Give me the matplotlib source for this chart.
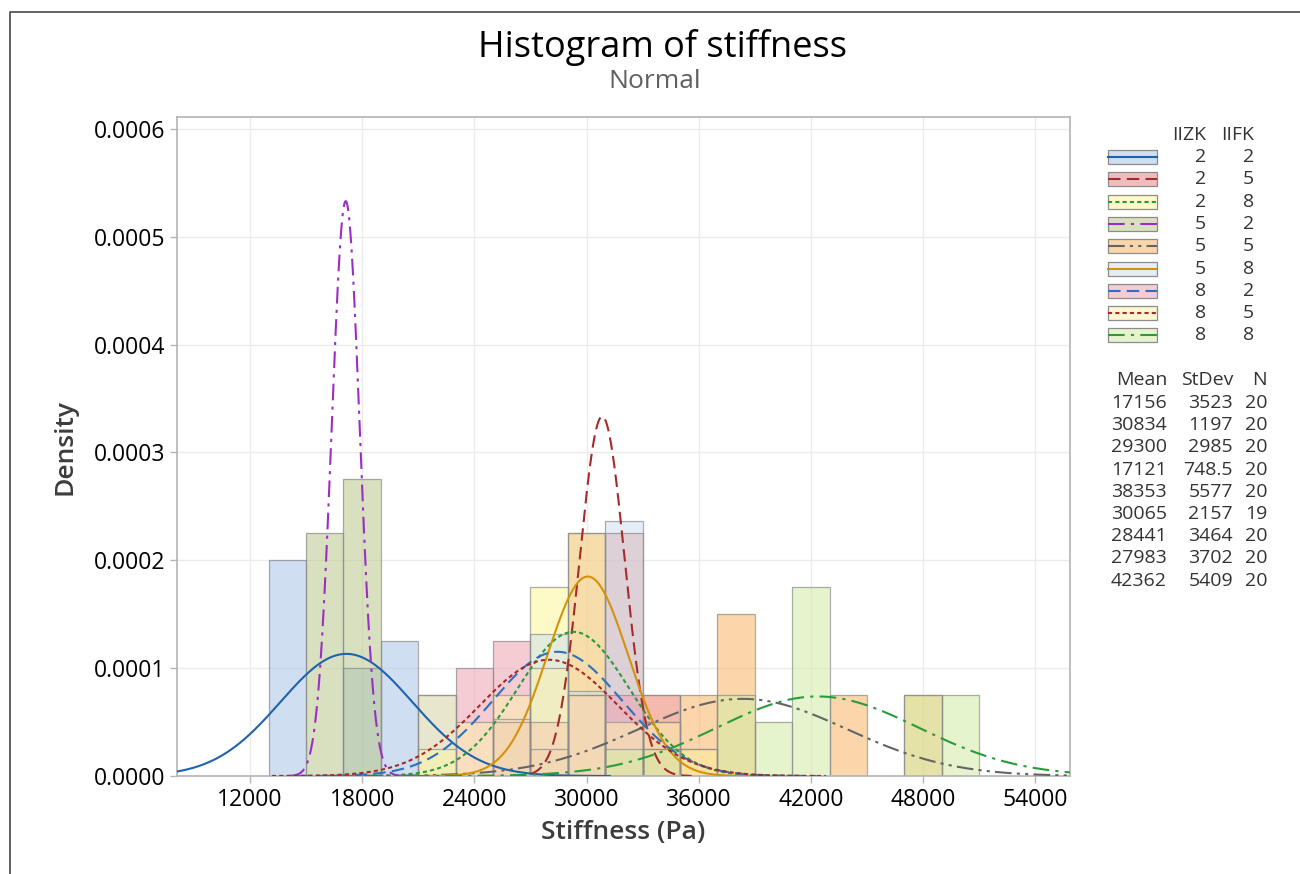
import numpy as np
import matplotlib
matplotlib.use("Agg")
import matplotlib.pyplot as plt
from matplotlib.patches import Rectangle
from matplotlib.lines import Line2D

plt.rcParams['font.family'] = ['Open Sans', 'DejaVu Sans']

# ---------------- data ----------------
bin_start = 13000
bin_width = 2000
n_bins = 19
iizk = [2, 2, 2, 5, 5, 5, 8, 8, 8]
iifk = [2, 5, 8, 2, 5, 8, 2, 5, 8]
means = [17156, 30834, 29300, 17121, 38353, 30065, 28441, 27983, 42362]
stdevs = [3523, 1197, 2985, 748.5, 5577, 2157, 3464, 3702, 5409]
ns = [20, 20, 20, 20, 20, 19, 20, 20, 20]
mean_lbl = ["17156", "30834", "29300", "17121", "38353", "30065", "28441", "27983", "42362"]
sd_lbl = ["3523", "1197", "2985", "748.5", "5577", "2157", "3464", "3702", "5409"]

# counts per bin (bins 13000-15000, 15000-17000, ..., 49000-51000)
counts_g1 = [8, 0, 4, 5, 3, 0, 0, 0, 0, 0, 0, 0, 0, 0, 0, 0, 0, 0, 0]
counts_g2 = [0, 0, 0, 0, 0, 0, 0, 1, 9, 9, 1, 0, 0, 0, 0, 0, 0, 0, 0]
counts_g3 = [0, 0, 0, 0, 1, 0, 0, 7, 9, 0, 2, 1, 0, 0, 0, 0, 0, 0, 0]
counts_g4 = [0, 9, 11, 0, 0, 0, 0, 0, 0, 0, 0, 0, 0, 0, 0, 0, 0, 0, 0]
counts_g5 = [0, 0, 0, 0, 0, 0, 2, 0, 0, 0, 3, 3, 6, 0, 0, 3, 0, 3, 0]
counts_g6 = [0, 0, 0, 0, 0, 0, 2, 5, 3, 9, 0, 0, 0, 0, 0, 0, 0, 0, 0]
counts_g7 = [0, 0, 0, 0, 0, 4, 5, 2, 3, 3, 3, 0, 0, 0, 0, 0, 0, 0, 0]
counts_g8 = [0, 0, 0, 0, 3, 2, 3, 4, 3, 2, 2, 1, 0, 0, 0, 0, 0, 0, 0]
counts_g9 = [0, 0, 0, 0, 0, 0, 0, 0, 0, 1, 1, 0, 3, 2, 7, 0, 0, 3, 3]
all_counts = [counts_g1, counts_g2, counts_g3, counts_g4, counts_g5,
              counts_g6, counts_g7, counts_g8, counts_g9]

x_ticks = [12000, 18000, 24000, 30000, 36000, 42000, 48000, 54000]
y_ticks = [0.0, 0.0001, 0.0002, 0.0003, 0.0004, 0.0005, 0.0006]

# ---------------- style ----------------
fill_colors = ['#a9c4e6', '#e08a8a', '#fdf79a', '#b8c88c', '#f7b565',
               '#cfe1ec', '#eea3b0', '#fdefb0', '#d3eca6']
line_colors = ['#1f63ad', '#a52a2a', '#2a9a3a', '#9b2fc2', '#646464',
               '#d4920a', '#2f6fc0', '#a52a2a', '#2a9a3a']
line_styles = ['-', (0, (6, 3)), (0, (2, 1.5)), (0, (8, 3, 1.5, 3)),
               (0, (8, 2.5, 1.5, 2.5, 1.5, 2.5)), '-', (0, (6, 3)),
               (0, (2, 1.5)), (0, (8, 3, 1.5, 3))]
alpha = 0.55

W, H = 1300, 874
fig = plt.figure(figsize=(W / 100, H / 100), dpi=100)
ax = fig.add_axes([177 / W, 1 - 776 / H, (1070 - 177) / W, (776 - 117) / H])

edges = bin_start + bin_width * np.arange(n_bins + 1)
for k in range(9):
    dens = np.array(all_counts[k]) / (ns[k] * bin_width)
    for i in range(n_bins):
        if dens[i] > 0:
            ax.add_patch(Rectangle((edges[i], 0), bin_width, dens[i],
                                   facecolor=fill_colors[k], alpha=alpha,
                                   edgecolor='none', zorder=2))
            ax.add_patch(Rectangle((edges[i], 0), bin_width, dens[i],
                                   facecolor='none', edgecolor='#8c8c8c',
                                   linewidth=0.9, alpha=0.7, zorder=2.5))

for k in range(9):
    xs = np.linspace(means[k] - 4 * stdevs[k], means[k] + 4 * stdevs[k], 600)
    ys = np.exp(-0.5 * ((xs - means[k]) / stdevs[k]) ** 2) / (stdevs[k] * np.sqrt(2 * np.pi))
    ax.plot(xs, ys, color=line_colors[k], linestyle=line_styles[k], lw=1.5, zorder=3)

ax.set_xlim(8100, 55850)
ax.set_ylim(0, 0.000611)
ax.set_xticks(x_ticks)
ax.set_yticks(y_ticks)
ax.set_xticklabels([str(v) for v in x_ticks])
ax.set_yticklabels([f"{v:.4f}" for v in y_ticks])
ax.grid(True, color='#ebebeb', linewidth=1.0, zorder=0)
ax.set_axisbelow(True)
for s in ax.spines.values():
    s.set_color('#b4b4b4')
    s.set_linewidth(1.2)
ax.tick_params(axis='both', colors='#b4b4b4', labelcolor='black', labelsize=16.5,
               length=5, width=1)
ax.set_xlabel('Stiffness (Pa)', fontsize=19, color='#3c3c3c', fontweight='semibold', labelpad=6)
ax.set_ylabel('Density', fontsize=19, color='#3c3c3c', fontweight='semibold', labelpad=12)

fig.text(663 / W, 1 - 47 / H, 'Histogram of stiffness', ha='center', va='center',
         fontsize=26, color='black')
fig.text(655 / W, 1 - 82 / H, 'Normal', ha='center', va='center', fontsize=19, color='#606060')

# overlay for legend and border
ov = fig.add_axes([0, 0, 1, 1])
ov.set_xlim(0, W)
ov.set_ylim(H, 0)
ov.axis('off')
ov.patch.set_alpha(0)
ov.plot([10, 10, W], [H, 12, 12], color='#555555', lw=1.3)

tcol = '#333333'
fs = 14
ov.text(1206, 135, 'IIZK', ha='right', va='center', fontsize=fs, color=tcol)
ov.text(1254, 135, 'IIFK', ha='right', va='center', fontsize=fs, color=tcol)
for k in range(9):
    yc = 157 + k * 22.3
    ov.add_patch(Rectangle((1108, yc - 7), 49, 14, facecolor=fill_colors[k], alpha=alpha,
                           edgecolor='none'))
    ov.add_patch(Rectangle((1108, yc - 7), 49, 14, facecolor='none', edgecolor='#8c8c8c', lw=0.9))
    ov.add_line(Line2D([1108, 1157], [yc, yc], color=line_colors[k], linestyle=line_styles[k], lw=1.5))
    ov.text(1206, yc, str(iizk[k]), ha='right', va='center', fontsize=fs, color=tcol)
    ov.text(1254, yc, str(iifk[k]), ha='right', va='center', fontsize=fs, color=tcol)

ov.text(1167, 380, 'Mean', ha='right', va='center', fontsize=fs, color=tcol)
ov.text(1233, 380, 'StDev', ha='right', va='center', fontsize=fs, color=tcol)
ov.text(1267, 380, 'N', ha='right', va='center', fontsize=fs, color=tcol)
for k in range(9):
    yc = 403 + k * 22.2
    ov.text(1167, yc, mean_lbl[k], ha='right', va='center', fontsize=fs, color=tcol)
    ov.text(1233, yc, sd_lbl[k], ha='right', va='center', fontsize=fs, color=tcol)
    ov.text(1267, yc, str(ns[k]), ha='right', va='center', fontsize=fs, color=tcol)

fig.savefig('out.png', dpi=100)
